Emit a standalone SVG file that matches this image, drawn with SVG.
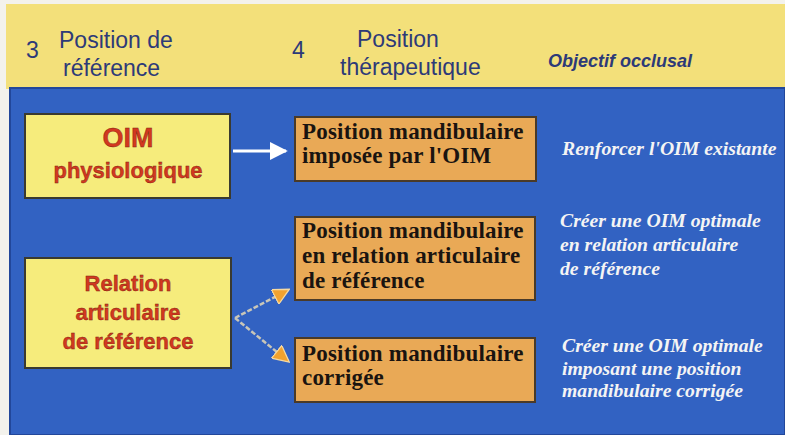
<svg xmlns="http://www.w3.org/2000/svg" width="785" height="435" viewBox="0 0 785 435">
<style>
.hdr{font-family:"Liberation Sans",Arial,sans-serif;font-size:23px;fill:#2d3a78}
.num{font-family:"Liberation Sans",Arial,sans-serif;font-size:23px;fill:#2d3a78}
.obj{font-family:"Liberation Sans",Arial,sans-serif;font-size:18px;font-weight:bold;font-style:italic;fill:#2d3a78}
.ybox{fill:#f6ec7c;stroke:#3a3a30;stroke-width:2}
.obox{fill:#e9a956;stroke:#4a3a28;stroke-width:2}
.red{font-family:"Liberation Sans",Arial,sans-serif;font-weight:bold;fill:#d2381f;text-anchor:middle;stroke:#7a2010;stroke-width:0.4}
.ser{font-family:"Liberation Serif","Times New Roman",serif;font-weight:bold;font-size:23px;letter-spacing:0.2px;fill:#1a1410}
.wit{font-family:"Liberation Serif","Times New Roman",serif;font-weight:bold;font-style:italic;font-size:19.7px;fill:#f4f4f4}
.lnk{fill:none;stroke:#c9c6b8;stroke-width:2.5;stroke-dasharray:5 2}
</style>
<defs>
<marker id="wh" viewBox="0 0 10 10" refX="9" refY="5" markerWidth="6" markerHeight="6" markerUnits="strokeWidth" orient="auto">
<path d="M0,0 L10,5 L0,10 Z" fill="#ffffff"/>
</marker>
<marker id="oh" viewBox="0 0 10 10" refX="9" refY="5" markerWidth="7" markerHeight="6.5" markerUnits="strokeWidth" orient="auto">
<path d="M0,0 L10,5 L0,10 Z" fill="#f2a22e" stroke="#f6d9a0" stroke-width="0.8"/>
</marker>
</defs>
<rect x="0" y="0" width="785" height="435" fill="#f3f2ec"/>
<rect x="6" y="4" width="779" height="85" fill="#f3e07a"/>
<rect x="10" y="88" width="775" height="347" fill="#3262c2" stroke="#22479a" stroke-width="2"/>

<g id="header">
<text class="num" x="26" y="58">3</text>
<text class="hdr" x="59" y="48">Position de</text>
<text class="hdr" x="63" y="76">référence</text>
<text class="num" x="292" y="58">4</text>
<text class="hdr" x="357" y="47">Position</text>
<text class="hdr" x="340" y="75">thérapeutique</text>
<text class="obj" x="548" y="67">Objectif occlusal</text>
</g>

<g id="oim">
<rect class="ybox" x="25" y="114" width="205" height="84"/>
<text class="red" x="128" y="147" font-size="27">OIM</text>
<text class="red" x="128" y="178" font-size="22">physiologique</text>
</g>

<g id="relation">
<rect class="ybox" x="25" y="258" width="206" height="110"/>
<text class="red" x="128" y="291" font-size="22">Relation</text>
<text class="red" x="128" y="320" font-size="22">articulaire</text>
<text class="red" x="128" y="349" font-size="22">de référence</text>
</g>

<g id="pos1">
<rect class="obox" x="295" y="117" width="241" height="64"/>
<text class="ser" x="302" y="139">Position mandibulaire</text>
<text class="ser" x="302" y="163">imposée par l'OIM</text>
</g>

<g id="pos2">
<rect class="obox" x="295" y="217" width="240" height="83"/>
<text class="ser" x="302" y="238">Position mandibulaire</text>
<text class="ser" x="302" y="263">en relation articulaire</text>
<text class="ser" x="302" y="288">de référence</text>
</g>

<g id="pos3">
<rect class="obox" x="295" y="338" width="240" height="64"/>
<text class="ser" x="302" y="361">Position mandibulaire</text>
<text class="ser" x="302" y="385">corrigée</text>
</g>

<g id="obj1">
<text class="wit" x="562" y="155">Renforcer l'OIM existante</text>
</g>
<g id="obj2">
<text class="wit" x="560" y="227">Créer une OIM optimale</text>
<text class="wit" x="560" y="251">en relation articulaire</text>
<text class="wit" x="560" y="275">de référence</text>
</g>
<g id="obj3">
<text class="wit" x="562" y="352">Créer une OIM optimale</text>
<text class="wit" x="562" y="375">imposant une position</text>
<text class="wit" x="562" y="397">mandibulaire corrigée</text>
</g>

<g id="connectors">
<line x1="233" y1="151" x2="286" y2="151" stroke="#ffffff" stroke-width="3" marker-end="url(#wh)"/>
<line class="lnk" x1="235" y1="318" x2="288" y2="290" marker-end="url(#oh)"/>
<line class="lnk" x1="235" y1="318" x2="288" y2="361" marker-end="url(#oh)"/>
</g>
</svg>
